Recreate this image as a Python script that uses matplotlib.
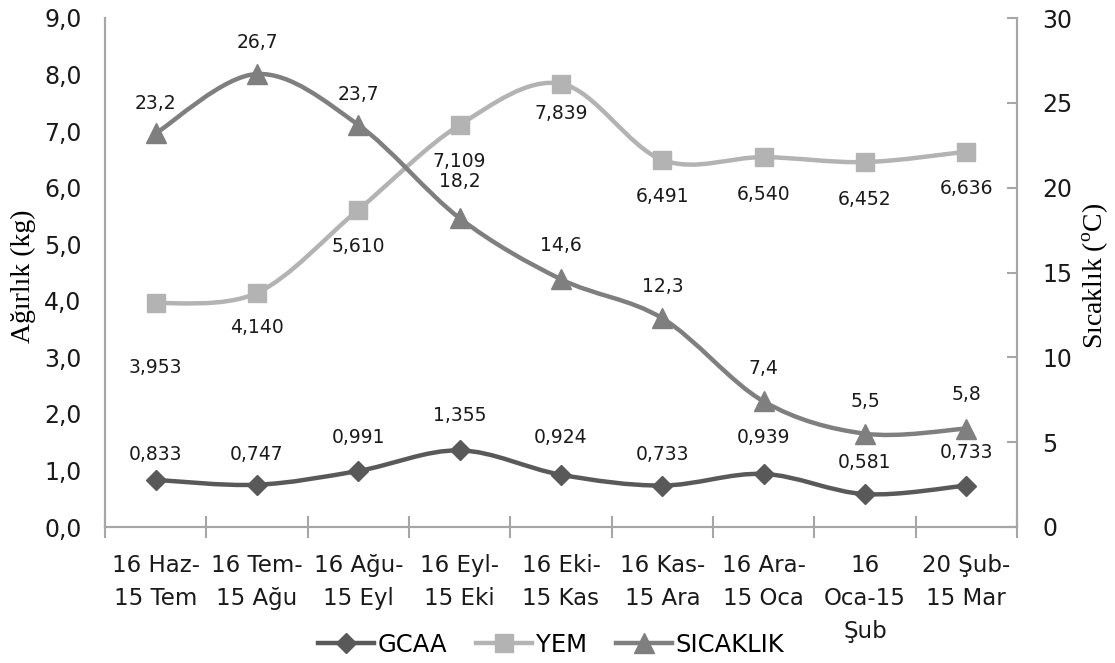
import matplotlib
matplotlib.use('Agg')
import matplotlib.pyplot as plt
import numpy as np
from matplotlib.path import Path
from matplotlib.patches import PathPatch
from matplotlib.lines import Line2D

# data
periods = ['16 Haz-\n15 Tem', '16 Tem-\n15 Ağu', '16 Ağu-\n15 Eyl', '16 Eyl-\n15 Eki',
           '16 Eki-\n15 Kas', '16 Kas-\n15 Ara', '16 Ara-\n15 Oca', '16\nOca-15\nŞub',
           '20 Şub-\n15 Mar']
gcaa = [0.833, 0.747, 0.991, 1.355, 0.924, 0.733, 0.939, 0.581, 0.733]
yem = [3.953, 4.140, 5.610, 7.109, 7.839, 6.491, 6.540, 6.452, 6.636]
sicaklik = [23.2, 26.7, 23.7, 18.2, 14.6, 12.3, 7.4, 5.5, 5.8]

plt.rcParams['font.family'] = ['DejaVu Sans']
plt.rcParams['mathtext.fontset'] = 'custom'
plt.rcParams['mathtext.rm'] = 'Liberation Serif'

c_gcaa = '#595959'
c_yem = '#b3b3b3'
c_sic = '#7f7f7f'
c_axis = '#a6a6a6'
c_text = '#1a1a1a'


def smooth(ax, xs, ys, color):
    # excel-like smoothed line (catmull-rom as bezier)
    pts = np.column_stack([xs, ys]).astype(float)
    n = len(pts)
    verts = [pts[0]]
    codes = [Path.MOVETO]
    for i in range(n - 1):
        p0 = pts[i - 1] if i > 0 else pts[i]
        p1 = pts[i]
        p2 = pts[i + 1]
        p3 = pts[i + 2] if i + 2 < n else pts[i + 1]
        c1 = p1 + (p2 - p0) / 6.0
        c2 = p2 - (p3 - p1) / 6.0
        verts += [c1, c2, p2]
        codes += [Path.CURVE4] * 3
    patch = PathPatch(Path(verts, codes), facecolor='none', edgecolor=color,
                      lw=3.2, capstyle='round', joinstyle='round', zorder=3)
    ax.add_patch(patch)


fig = plt.figure(figsize=(11.15, 6.63), dpi=100)
ax = fig.add_axes([105 / 1115, 136 / 663, 912 / 1115, 509 / 663])
ax2 = ax.twinx()

x = np.arange(len(periods))

smooth(ax, x, gcaa, c_gcaa)
ax.plot(x, gcaa, ls='none', marker='D', ms=10, color=c_gcaa, zorder=4)
smooth(ax, x, yem, c_yem)
ax.plot(x, yem, ls='none', marker='s', ms=13, color=c_yem, zorder=4)
smooth(ax2, x, sicaklik, c_sic)
ax2.plot(x, sicaklik, ls='none', marker='^', ms=14, color=c_sic, zorder=4)

ax.set_xlim(-0.5, len(periods) - 0.5)
ax.set_ylim(0, 9)
ax2.set_ylim(0, 30)

# data labels (pixel offsets)
gcaa_off = [25, 30, 33, 35, 37, 31, 36, 32, 33]
yem_off = [-64, -35, -37, -37, -30, -37, -37, -37, -37]
sic_off = [30, 31, 30, 37, 34, 32, 33, 32, 34]


def fmt(v, d):
    return ('%.*f' % (d, v)).replace('.', ',')


for i in range(len(periods)):
    ax.annotate(fmt(gcaa[i], 3), (x[i], gcaa[i]), xytext=(0, gcaa_off[i]), textcoords='offset pixels',
                ha='center', va='center', fontsize=13.5, color=c_text, zorder=6)
    ax.annotate(fmt(yem[i], 3), (x[i], yem[i]), xytext=(0, yem_off[i]), textcoords='offset pixels',
                ha='center', va='center', fontsize=13.5, color=c_text, zorder=6)
    ax2.annotate(fmt(sicaklik[i], 1), (x[i], sicaklik[i]), xytext=(0, sic_off[i]), textcoords='offset pixels',
                 ha='center', va='center', fontsize=13.5, color=c_text, zorder=6)

# axes styling
for a in (ax, ax2):
    for s in a.spines.values():
        s.set_color(c_axis)
        s.set_linewidth(1.5)
    a.spines['top'].set_visible(False)

ax.set_yticks(np.arange(0, 9.1, 1))
ax.set_yticklabels([fmt(v, 1) for v in np.arange(0, 9.1, 1)])
ax.tick_params(axis='y', length=0, pad=17, labelsize=17, labelcolor=c_text)

ax2.set_yticks(np.arange(0, 31, 5))
ax2.tick_params(axis='y', direction='in', length=7, width=1.5, color=c_axis, pad=18,
                labelsize=17, labelcolor=c_text)

ax.set_xticks(np.arange(-0.5, len(periods), 1))
ax.set_xticklabels([])
ax.tick_params(axis='x', which='major', direction='inout', length=16, width=1.5, color=c_axis)

# category labels, one line at a time so baselines line up
for i, lab in enumerate(periods):
    for k, line in enumerate(lab.split('\n')):
        ax.annotate(line, (x[i], 0), xycoords=('data', 'axes fraction'),
                    xytext=(0, -45 - 33 * k), textcoords='offset pixels',
                    ha='center', va='baseline', fontsize=16.5, color=c_text, annotation_clip=False)

ax.set_ylabel('Ağırlık (kg)', family='Liberation Serif', fontsize=20, va='center')
ax.yaxis.set_label_coords(-82 / 912, 0.493)
ax2.set_ylabel('Sıcaklık ($^{\\mathrm{o}}$C)', family='Liberation Serif', fontsize=20, va='center')
ax2.yaxis.set_label_coords(1 + 79 / 912, 0.493)

handles = [
    Line2D([], [], color=c_gcaa, lw=3.2, marker='D', ms=10),
    Line2D([], [], color=c_yem, lw=3.2, marker='s', ms=13),
    Line2D([], [], color=c_sic, lw=3.2, marker='^', ms=14),
]
fig.legend(handles, ['GCAA', 'YEM', 'SICAKLIK'], loc='center', bbox_to_anchor=(551 / 1115, 1 - 645 / 663),
           ncol=3, frameon=False, fontsize=17.5, handlelength=2.3, handletextpad=0.15, columnspacing=1.2)

fig.savefig('out.png', dpi=100)
